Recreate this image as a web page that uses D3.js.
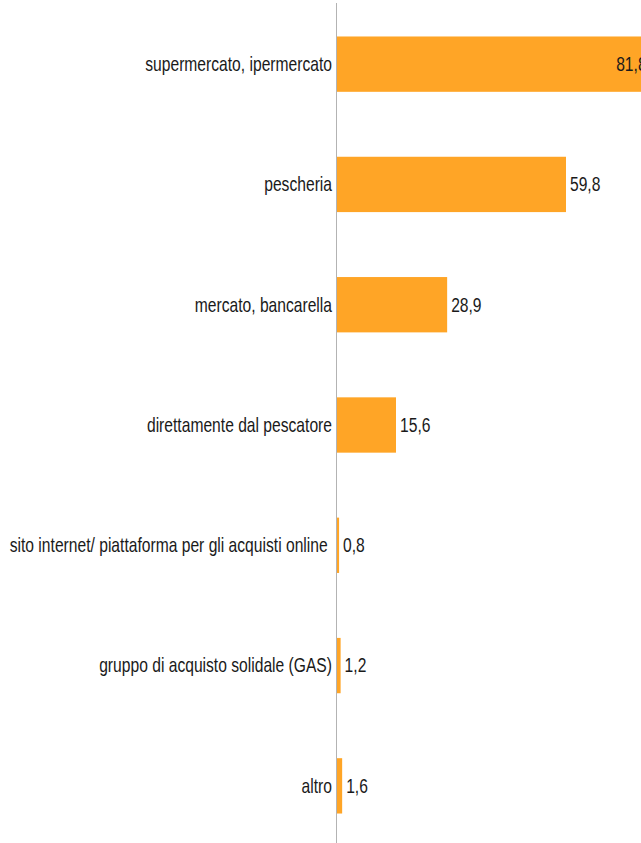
<!DOCTYPE html>
<html><head><meta charset="utf-8">
<script src="https://cdn.jsdelivr.net/npm/d3@7"></script>
<style>html,body{margin:0;padding:0;background:#fff;}svg{display:block;}
text{font-family:"Liberation Sans",Arial,sans-serif;font-size:19.5px;fill:#1a1a1a;white-space:pre;}</style>
</head><body><svg id="c" width="641" height="843"></svg>
<script>
const categories = ["supermercato, ipermercato","pescheria","mercato, bancarella","direttamente dal pescatore","sito internet/ piattaforma per gli acquisti online ","gruppo di acquisto solidale (GAS)","altro"];
const values = [81.8, 59.8, 28.9, 15.6, 0.8, 1.2, 1.6];
const valueLabels = ["81,8","59,8","28,9","15,6","0,8","1,2","1,6"];

const W = 641, H = 843;
const x0 = 336;
const svg = d3.select("#c");
const x = d3.scaleLinear().domain([0, 100]).range([x0, x0 + 384.6]);
const y = d3.scaleBand().domain(categories).range([4, 846]).paddingInner(0.54).paddingOuter(0.27);

svg.selectAll("rect.bar").data(values).join("rect")
  .attr("class","bar")
  .attr("x", x(0)).attr("y", (d,i)=>y(categories[i]))
  .attr("width", d=>x(d)-x(0)).attr("height", y.bandwidth())
  .attr("fill", "#ffa526");

svg.append("line").attr("x1", x0+0.5).attr("x2", x0+0.5).attr("y1", 3).attr("y2", H)
  .attr("stroke", "#b3b3b3").attr("stroke-width", 1);

// condensed look: measure a label and squeeze horizontally
const probe = svg.append("text").text(categories[0]);
const natural = probe.node().getComputedTextLength();
probe.remove();
const sx = 187 / natural;

svg.selectAll("text.cat").data(categories).join("text")
  .attr("class","cat")
  .attr("transform", d=>`translate(${x0 - 4},${y(d)+y.bandwidth()/2}) scale(${sx},1)`)
  .attr("dy","0.35em").attr("text-anchor","end").text(d=>d);

const fits = d => x(d) + 30 <= W;
svg.selectAll("text.val").data(values).join("text")
  .attr("class","val")
  .attr("transform", (d,i)=>`translate(${fits(d) ? x(d)+4 : x(d)-4},${y(categories[i])+y.bandwidth()/2}) scale(${sx},1)`)
  .attr("text-anchor", d=> fits(d) ? "start" : "end")
  .attr("dy","0.35em").text((d,i)=>valueLabels[i]);
</script></body></html>
